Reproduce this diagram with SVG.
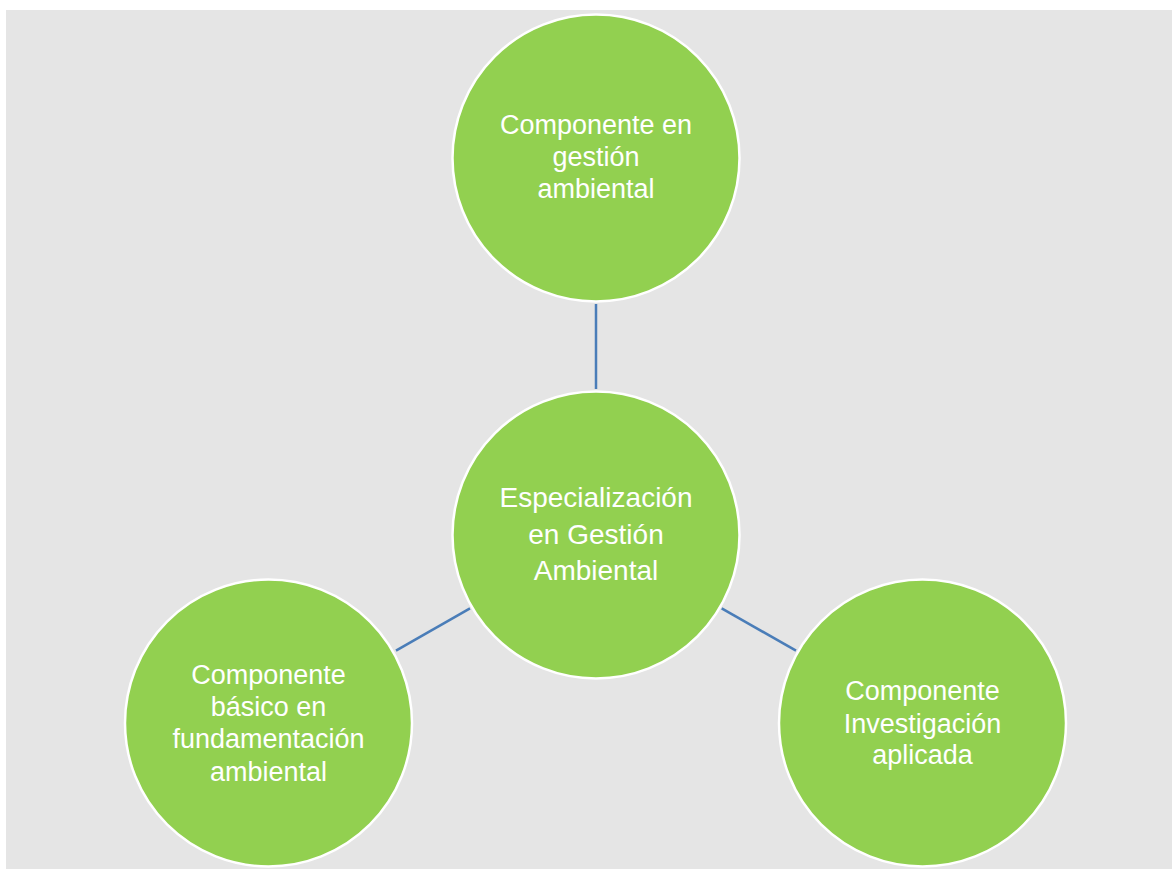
<svg xmlns="http://www.w3.org/2000/svg" width="1172" height="871" viewBox="0 0 1172 871">
  <style>
    .node { fill: #92d050; stroke: #ffffff; stroke-width: 2.5; }
    .label { font-family: "Liberation Sans", Arial, sans-serif; font-size: 27px; fill: #ffffff; text-anchor: middle; }
    .big { font-size: 28px; }
    .conn { stroke: #4a7db8; stroke-width: 2.5; fill: none; }
  </style>
  <rect x="0" y="0" width="1172" height="871" fill="#ffffff"/>
  <rect x="6" y="10" width="1166" height="859" fill="#e5e5e5"/>
  <g id="connectors">
    <line class="conn" x1="596" y1="304" x2="596" y2="389"/>
    <line class="conn" x1="396" y1="650.7" x2="470" y2="608.3"/>
    <line class="conn" x1="721.7" y1="608.3" x2="796" y2="650.7"/>
  </g>
  <g id="node-top">
    <circle class="node" cx="596" cy="158" r="143.5"/>
    <text class="label" x="596" y="134">Componente en</text>
    <text class="label" x="596" y="166">gestión</text>
    <text class="label" x="596" y="197.5">ambiental</text>
  </g>
  <g id="node-center">
    <circle class="node" cx="596" cy="535" r="143.5"/>
    <text class="label big" x="596" y="507">Especialización</text>
    <text class="label big" x="596" y="543.5">en Gestión</text>
    <text class="label big" x="596" y="580">Ambiental</text>
  </g>
  <g id="node-left">
    <circle class="node" cx="268.5" cy="723" r="143.5"/>
    <text class="label" x="268.5" y="684">Componente</text>
    <text class="label" x="268.5" y="716">básico en</text>
    <text class="label" x="268.5" y="748.3">fundamentación</text>
    <text class="label" x="268.5" y="780.7">ambiental</text>
  </g>
  <g id="node-right">
    <circle class="node" cx="922.5" cy="723" r="143.5"/>
    <text class="label" x="922.5" y="700">Componente</text>
    <text class="label" x="922.5" y="732.7">Investigación</text>
    <text class="label" x="922.5" y="764">aplicada</text>
  </g>
</svg>
